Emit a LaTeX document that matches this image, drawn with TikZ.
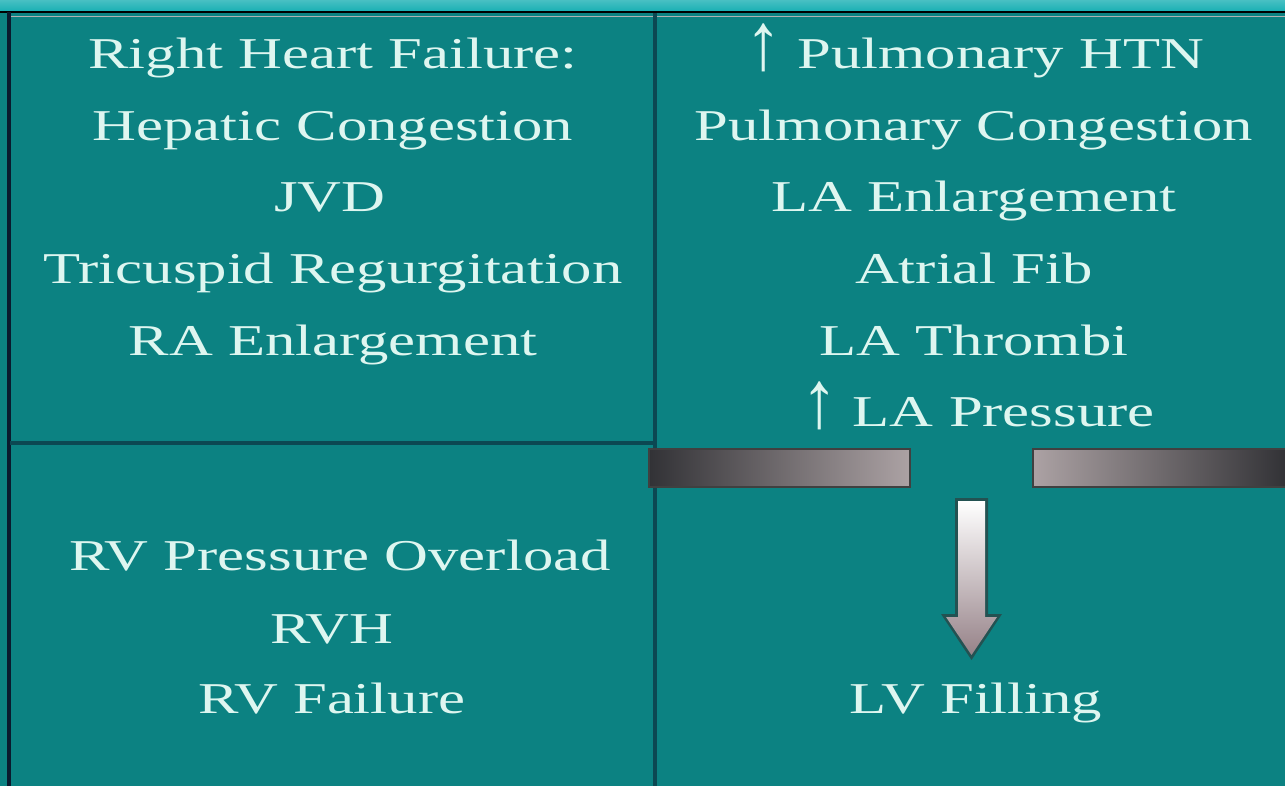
\documentclass[tikz,border=0pt]{standalone}
\usepackage{graphicx}
\usepackage{fontspec}
\setmainfont{Liberation Serif}
\usetikzlibrary{positioning}
\definecolor{tealbg}{RGB}{12,130,130}
\definecolor{topband}{RGB}{26,176,180}
\definecolor{gridline}{RGB}{12,72,82}
\definecolor{edgeline}{RGB}{10,26,46}
\definecolor{txtc}{RGB}{222,246,240}
\definecolor{bardark}{RGB}{50,50,54}
\definecolor{barlight}{RGB}{172,162,164}
\definecolor{arrowtip}{RGB}{150,130,136}
\newcommand{\wide}[1]{\scalebox{1.38}[1]{#1}}
\newcommand{\uparr}{\raisebox{-0.05ex}{\scalebox{1.2}[1.85]{↑}}}
\tikzset{
  txt/.style={text=txtc, font=\fontsize{33}{40}\selectfont, anchor=base, inner sep=0pt},
  bar/.style={draw=black!75, line width=1.5pt}
}

\begin{document}
\begin{tikzpicture}[x=0.75pt,y=0.75pt,yscale=-1,xscale=1]
\useasboundingbox (0,0) rectangle (1285,786);

%Background
\fill[tealbg] (0,0) rectangle (1285,786);
\shade[top color=topband!80!white, bottom color=topband] (0,0) rectangle (1285,11);
%Frame lines
\draw[black, line width=2pt] (0,12) -- (1285,12);
\draw[gray!60, line width=1pt] (11,16.5) -- (1285,16.5);
\draw[edgeline, line width=2.5pt] (9,12) -- (9,786);
\draw[gridline, line width=2.5pt] (655,13) -- (655,786);
\draw[gridline, line width=3pt] (10,443) -- (655,443);

%Shape: Bar left
\shade[bar, left color=bardark, right color=barlight] (649,449) rectangle (910,487);
%Shape: Bar right
\shade[bar, left color=barlight, right color=bardark] (1033,449) rectangle (1286,487);

%Shape: Down Arrow
\fill[black!80, opacity=0.6] (955,498) -- (988,498) -- (988,614) -- (1002,614) -- (971.5,660) -- (941,614) -- (955,614) -- cycle;
\shade[top color=white, bottom color=arrowtip] (958,501) -- (985,501) -- (985,617) -- (997,617) -- (971.5,655) -- (946,617) -- (958,617) -- cycle;

% Text Node
\node[txt] (rhf) at (333,68) {\wide{Right Heart Failure:}};
\node[txt] (hep) at (333,140) {\wide{Hepatic Congestion}};
\node[txt] (jvd) at (330,211) {\wide{JVD}};
\node[txt] (tri) at (333,283) {\wide{Tricuspid Regurgitation}};
\node[txt] (rae) at (333,355) {\wide{RA Enlargement}};
% Text Node
\node[txt] (htn) at (975,68) {\wide{\uparr\ Pulmonary HTN}};
\node[txt] (pco) at (974,140) {\wide{Pulmonary Congestion}};
\node[txt] (lae) at (974,211) {\wide{LA Enlargement}};
\node[txt] (afib) at (974,283) {\wide{Atrial Fib}};
\node[txt] (lat) at (974,355) {\wide{LA Thrombi}};
\node[txt] (lap) at (978,426) {\wide{\uparr\ LA Pressure}};
% Text Node
\node[txt] (rvp) at (340,570) {\wide{RV Pressure Overload}};
\node[txt] (rvh) at (332,643) {\wide{RVH}};
\node[txt] (rvf) at (332,713) {\wide{RV Failure}};
\node[txt] (lvf) at (976,713) {\wide{LV Filling}};

\end{tikzpicture}
\end{document}
